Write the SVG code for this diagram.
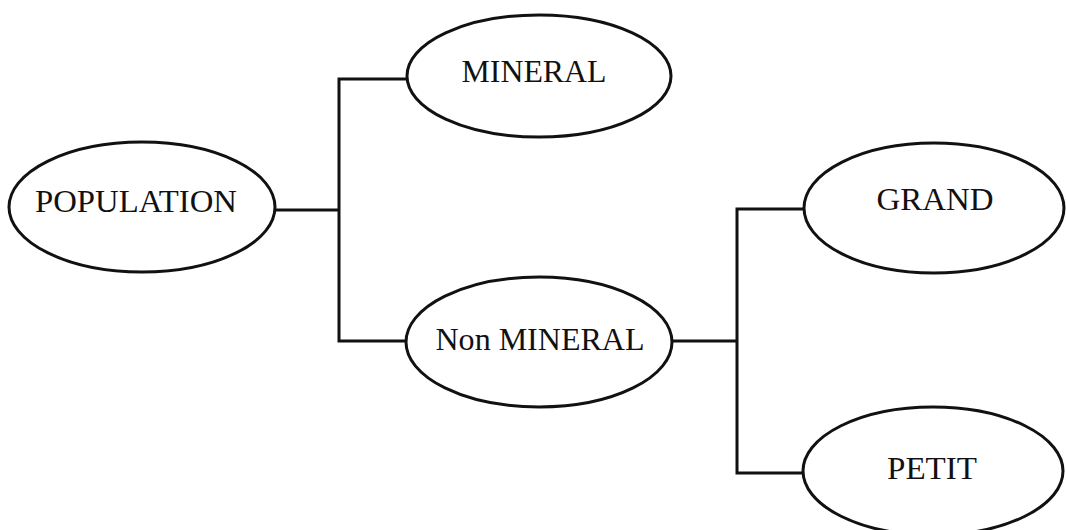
<svg xmlns="http://www.w3.org/2000/svg" width="1066" height="530" viewBox="0 0 1066 530">
  <style>
    .node ellipse { fill: #ffffff; stroke: #111111; stroke-width: 3; }
    .node text { font-family: "Liberation Serif", "Times New Roman", serif; font-size: 32px; fill: #111111; text-anchor: middle; }
    .links path { fill: none; stroke: #111111; stroke-width: 3; stroke-linejoin: miter; }
  </style>
  <rect width="1066" height="530" fill="#ffffff"/>

  <!-- tree connectors -->
  <g id="connectors" class="links">
    <path d="M275,210 H339"/>
    <path d="M407,79 H339 V341 H406"/>
    <path d="M672,341 H737"/>
    <path d="M804,209 H737 V473 H803"/>
  </g>

  <g id="population" class="node">
    <ellipse cx="142" cy="207" rx="133" ry="65"/>
    <text x="136" y="212" textLength="202" lengthAdjust="spacingAndGlyphs">POPULATION</text>
  </g>

  <g id="mineral" class="node">
    <ellipse cx="539" cy="76" rx="132" ry="61"/>
    <text x="534" y="82" textLength="145" lengthAdjust="spacingAndGlyphs">MINERAL</text>
  </g>

  <g id="non-mineral" class="node">
    <ellipse cx="539" cy="342" rx="133" ry="65"/>
    <text x="540" y="350" textLength="209" lengthAdjust="spacingAndGlyphs">Non MINERAL</text>
  </g>

  <g id="grand" class="node">
    <ellipse cx="934" cy="208" rx="130" ry="65"/>
    <text x="935" y="210" textLength="117" lengthAdjust="spacingAndGlyphs">GRAND</text>
  </g>

  <g id="petit" class="node">
    <ellipse cx="933" cy="471" rx="130" ry="64"/>
    <text x="932" y="479" textLength="90" lengthAdjust="spacingAndGlyphs">PETIT</text>
  </g>
</svg>
